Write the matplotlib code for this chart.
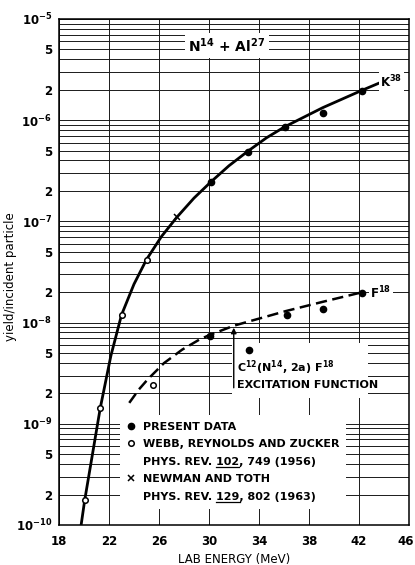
import matplotlib
matplotlib.use('Agg')
import matplotlib.pyplot as plt
from matplotlib.ticker import FixedLocator, FuncFormatter
from matplotlib.patches import Rectangle
from matplotlib.lines import Line2D
from matplotlib.transforms import ScaledTranslation
import numpy as np

plt.rcParams['font.family'] = ['DejaVu Sans']
plt.rcParams['font.weight'] = 'bold'
plt.rcParams['mathtext.default'] = 'bf'

# K38 yield: present data and the older measurements
k38_energy = [30.15, 33.15, 36.1, 39.1, 42.2]
k38_yield = [2.45e-7, 4.9e-7, 8.5e-7, 1.17e-6, 1.95e-6]
webb_energy = [20.07, 21.3, 23.03, 25.05]
webb_yield = [1.75e-10, 1.43e-9, 1.18e-8, 4.15e-8]
newman_energy = [27.45]
newman_yield = [1.1e-7]

# F18 yield
f18_energy = [30.1, 33.2, 36.2, 39.1, 42.2]
f18_yield = [7.3e-9, 5.4e-9, 1.2e-8, 1.35e-8, 1.94e-8]
f18_webb_energy = [25.55]
f18_webb_yield = [2.43e-9]

# hand drawn curves through the points
k38_curve_e = [19.77, 20.05, 21.3, 22.15, 23.0, 24.0, 25.0, 26.2, 27.43, 28.8, 30.14,
               31.6, 33.1, 34.6, 36.05, 39.1, 42.14, 43.55]
k38_curve_y = [1.0e-10, 1.74e-10, 1.43e-9, 4.7e-9, 1.19e-8, 2.4e-8, 4.2e-8, 7.1e-8, 1.1e-7,
               1.7e-7, 2.45e-7, 3.55e-7, 4.93e-7, 6.7e-7, 8.6e-7, 1.33e-6, 1.95e-6, 2.31e-6]
f18_curve_e = [23.62, 24.4, 25.1, 26.4, 27.85, 29.2, 30.0, 32.0, 36.15, 39.06, 42.14]
f18_curve_y = [1.61e-9, 2.19e-9, 2.75e-9, 3.98e-9, 5.4e-9, 6.76e-9, 7.5e-9, 9.33e-9, 1.3e-8,
               1.6e-8, 1.98e-8]

energy_ticks = np.arange(18, 47, 4)
decades = [1e-10, 1e-9, 1e-8, 1e-7, 1e-6, 1e-5]
minor_steps = [m * d for d in decades[:-1] for m in range(2, 10)]

fig = plt.figure(figsize=(4.15, 5.65), dpi=100)
ax = fig.add_axes([59 / 415, 40 / 565, 350 / 415, 506 / 565])
ax.set_yscale('log')
ax.set_xlim(18, 46)
ax.set_ylim(1e-10, 1e-5)
ax.set_axisbelow(True)

ax.xaxis.set_major_locator(FixedLocator(energy_ticks))
ax.yaxis.set_major_locator(FixedLocator(decades))
ax.yaxis.set_minor_locator(FixedLocator(minor_steps))


def decade_label(v, pos):
    return '$10^{%d}$' % int(round(np.log10(v)))


def minor_label(v, pos):
    m = int(round(v / 10 ** np.floor(np.log10(v) + 1e-9)))
    return str(m) if m in (2, 5) else ''


ax.yaxis.set_major_formatter(FuncFormatter(decade_label))
ax.yaxis.set_minor_formatter(FuncFormatter(minor_label))
ax.tick_params(which='both', length=0, labelsize=8.5, pad=5)
ax.tick_params(axis='x', pad=7)

ax.grid(True, which='both', axis='y', color='#1a1a1a', lw=0.7)
ax.grid(True, which='major', axis='x', color='#1a1a1a', lw=0.7)
for s in ax.spines.values():
    s.set_linewidth(1.1)

# white areas behind the labels
ax.add_patch(Rectangle((28.1, 4.1e-6), 6.7, 7.26e-6 - 4.1e-6, facecolor='white',
                       edgecolor='none', zorder=1))
ax.add_patch(Rectangle((31.85, 1.81e-9), 10.9, 6.3e-9 - 1.81e-9, facecolor='white',
                       edgecolor='none', zorder=1))

# curves
ax.plot(k38_curve_e, k38_curve_y, color='black', lw=2.0, zorder=3)
ax.plot(f18_curve_e, f18_curve_y, color='black', lw=1.8, ls=(0, (4.5, 2.2)), zorder=3)

# points
ax.plot(k38_energy, k38_yield, 'o', color='black', ms=4.5, zorder=4)
ax.plot(f18_energy, f18_yield, 'o', color='black', ms=4.5, zorder=4)
ax.plot(webb_energy, webb_yield, 'o', mfc='white', mec='black', mew=1.1, ms=4, zorder=4)
ax.plot(f18_webb_energy, f18_webb_yield, 'o', mfc='white', mec='black', mew=1.1, ms=4, zorder=4)
ax.plot(newman_energy, newman_yield, 'x', color='black', mew=1.1, ms=4, zorder=4)

ax.text(31.43, 5.4e-6, 'N$^{14}$ + Al$^{27}$', fontsize=10, ha='center', va='center', zorder=5)
ax.text(43.7, 2.38e-6, 'K$^{38}$', fontsize=8.5, ha='left', va='center', zorder=5,
        bbox=dict(facecolor='white', edgecolor='none', pad=1))
ax.text(42.9, 1.98e-8, 'F$^{18}$', fontsize=8.5, ha='left', va='center', zorder=5,
        bbox=dict(facecolor='white', edgecolor='none', pad=1))

ax.text(32.25, 3.6e-9, 'C$^{12}$(N$^{14}$, 2a) F$^{18}$', fontsize=8, ha='left', va='center', zorder=5)
ax.text(32.25, 2.43e-9, 'EXCITATION FUNCTION', fontsize=8, ha='left', va='center', zorder=5)
ax.annotate('', xy=(31.98, 8.9e-9), xytext=(31.98, 2.27e-9), zorder=5,
            arrowprops=dict(arrowstyle='-|>', color='black', lw=1.0, mutation_scale=8,
                            shrinkA=0, shrinkB=0))

handles = [
    Line2D([], [], marker='o', color='black', ls='none', ms=4.5),
    Line2D([], [], marker='o', mfc='white', mec='black', mew=1.1, ls='none', ms=4),
    Line2D([], [], ls='none'),
    Line2D([], [], marker='x', color='black', mew=1.1, ls='none', ms=4),
    Line2D([], [], ls='none'),
]
labels = [
    'PRESENT DATA',
    'WEBB, REYNOLDS AND ZUCKER',
    'PHYS. REV. 102, 749 (1956)',
    'NEWMAN AND TOTH',
    'PHYS. REV. 129, 802 (1963)',
]
leg = ax.legend(handles, labels, loc='upper left', bbox_to_anchor=(0.174, 0.2174),
                borderaxespad=0, fontsize=8, frameon=True, fancybox=False,
                facecolor='white', edgecolor='none', framealpha=1,
                handlelength=0.8, handletextpad=0.7, borderpad=0.6, labelspacing=0.68)
leg.set_zorder(5)

ax.set_xlabel('LAB ENERGY (MeV)', fontsize=8.5)
ax.xaxis.set_label_coords(0.5, -0.055)
ax.set_ylabel('yield/incident particle', fontsize=8.5)
ax.yaxis.set_label_coords(-0.119, 0.49)

# pull the last energy label in from the figure edge
fig.canvas.draw()
last = ax.xaxis.get_major_ticks()[-1].label1
last.set_transform(last.get_transform() + ScaledTranslation(-0.03, 0, fig.dpi_scale_trans))

# underline the volume numbers in the references
r = fig.canvas.get_renderer()
for t, vol in [(leg.get_texts()[2], '102'), (leg.get_texts()[4], '129')]:
    fp = t.get_fontproperties()
    bb = t.get_window_extent(r)
    s = t.get_text()
    head = s.split(vol)[0] + vol
    w_head = r.get_text_width_height_descent(head, fp, ismath=False)[0]
    w_vol = r.get_text_width_height_descent(vol, fp, ismath=False)[0]
    d = r.get_text_width_height_descent(s, fp, ismath=False)[2]
    x1 = bb.x0 + w_head
    x0 = x1 - w_vol
    y = bb.y0 + d - 2
    (fx0, fy), (fx1, _) = fig.transFigure.inverted().transform([(x0, y), (x1, y)])
    fig.add_artist(Line2D([fx0, fx1], [fy, fy], color='black', lw=0.9, zorder=10))

fig.savefig('out.png', dpi=100)
